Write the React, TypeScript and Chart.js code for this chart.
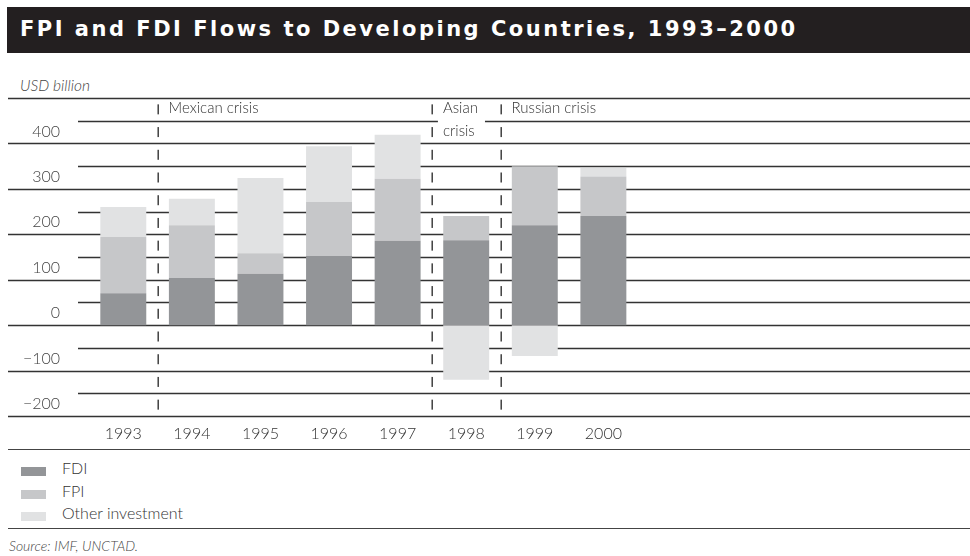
import React, { useEffect, useRef } from 'react';
import { Chart, registerables } from 'chart.js';

Chart.register(...registerables);

const years = ['1993', '1994', '1995', '1996', '1997', '1998', '1999', '2000'];
const fdiValues = [70, 104, 113, 152, 186, 187, 220, 240];
const fpiValues = [124, 116, 45, 119, 136, 53, 130, 87];
const otherValues = [66, 58, 166, 123, 97, -120, -68, 19];
const seriesNames = ['FDI', 'FPI', 'Other investment'];
const seriesColors = ['#939598', '#c6c7c9', '#e1e2e3'];
const yTickValues = [-200, -100, 0, 100, 200, 300, 400];
const crisisLabels = [['Mexican crisis'], ['Asian', 'crisis'], ['Russian crisis']];
const crisisAfterIndex = [0, 4, 5];

const Y_MIN = -200;
const Y_MAX = 500;
const FONT = 'Lato, "Open Sans", sans-serif';

const decorPlugin = {
  id: 'decor',
  beforeDatasetsDraw(chart: any) {
    const { ctx, scales } = chart;
    const y = scales.y;
    ctx.save();
    ctx.strokeStyle = '#333';
    ctx.lineWidth = 1.3;
    for (let v = Y_MIN; v <= Y_MAX; v += 50) {
      const py = Math.round(y.getPixelForValue(v)) + 0.5;
      const x0 = v % 100 === 0 ? 8 : 78;
      ctx.beginPath();
      ctx.moveTo(x0, py);
      ctx.lineTo(chart.width, py);
      ctx.stroke();
    }
    ctx.restore();
  },
  afterDatasetsDraw(chart: any) {
    const { ctx, scales } = chart;
    const x = scales.x;
    const y = scales.y;
    ctx.save();
    crisisAfterIndex.forEach((idx, i) => {
      const px = (x.getPixelForValue(idx) + x.getPixelForValue(idx + 1)) / 2;
      ctx.fillStyle = '#333';
      for (let v = Y_MIN; v < Y_MAX; v += 50) {
        const mid = (y.getPixelForValue(v) + y.getPixelForValue(v + 50)) / 2;
        ctx.fillRect(Math.round(px) - 0.5, mid - 5, 1.4, 10);
      }
      const lines = crisisLabels[i];
      const tx = px + 11;
      ctx.font = `300 15px ${FONT}`;
      if (lines.length > 1) {
        const w = Math.max(...lines.map((l) => ctx.measureText(l).width));
        ctx.fillStyle = '#fff';
        const top = y.getPixelForValue(Y_MAX) + 2;
        const bottom = y.getPixelForValue(Y_MAX - 100) - 2;
        ctx.fillRect(tx - 5, top, w + 12, bottom - top);
      }
      ctx.fillStyle = '#333';
      ctx.textBaseline = 'middle';
      ctx.textAlign = 'left';
      lines.forEach((l, j) => {
        const mid = (y.getPixelForValue(Y_MAX - 50 * j) + y.getPixelForValue(Y_MAX - 50 * (j + 1))) / 2 - 1;
        ctx.fillText(l, tx, mid);
      });
    });
    ctx.restore();
  },
};

export default function App() {
  const ref = useRef<HTMLCanvasElement>(null);

  useEffect(() => {
    const labels = [...years, '', '', '', ''];
    const chart = new Chart(ref.current as HTMLCanvasElement, {
      type: 'bar',
      data: {
        labels,
        datasets: [
          { label: seriesNames[0], data: fdiValues, backgroundColor: seriesColors[0] },
          { label: seriesNames[1], data: fpiValues, backgroundColor: seriesColors[1] },
          { label: seriesNames[2], data: otherValues, backgroundColor: seriesColors[2] },
        ],
      },
      options: {
        responsive: false,
        maintainAspectRatio: false,
        devicePixelRatio: 1,
        animation: false,
        datasets: { bar: { barPercentage: 0.67, categoryPercentage: 1, borderWidth: 0 } },
        layout: { padding: { top: 8, right: 58, bottom: 6, left: 0 } },
        plugins: { legend: { display: false }, tooltip: { enabled: false } },
        scales: {
          x: {
            stacked: true,
            afterFit: (s: any) => {
              s.height = 28;
            },
            grid: { display: false, drawTicks: false },
            border: { display: false },
            ticks: {
              color: '#333',
              font: { family: FONT, size: 16, weight: '300' as any },
              padding: 8,
              autoSkip: false,
              maxRotation: 0,
            },
          },
          y: {
            stacked: true,
            min: Y_MIN,
            max: Y_MAX,
            afterFit: (s: any) => {
              s.width = 89;
              s.paddingTop = 0;
              s.paddingBottom = 0;
            },
            afterBuildTicks: (s: any) => {
              s.ticks = [...yTickValues, Y_MAX].map((v) => ({ value: v }));
            },
            grid: { display: false, drawTicks: false },
            border: { display: false },
            ticks: {
              color: '#444',
              font: { family: FONT, size: 16, weight: '300' as any },
              padding: 29,
              labelOffset: -12,
              callback: (v: any) => {
                const n = Number(v);
                if (!yTickValues.includes(n)) return '';
                return n < 0 ? '\u2212' + Math.abs(n) : String(n);
              },
            },
          },
        },
      },
      plugins: [decorPlugin],
    });
    return () => chart.destroy();
  }, []);

  return (
    <div
      style={{
        position: 'absolute',
        left: 0,
        top: 0,
        width: 970,
        height: 556,
        background: '#fff',
        fontFamily: FONT,
        color: '#333',
        overflow: 'hidden',
      }}
    >
      <div style={{ position: 'absolute', left: 7, top: 7, width: 963, height: 46, background: '#231f20' }}>
        <div
          style={{
            position: 'absolute',
            left: 13,
            top: 0,
            lineHeight: '44px',
            fontSize: 21,
            fontFamily: '"DejaVu Sans", sans-serif',
            fontWeight: 700,
            color: '#fff',
            letterSpacing: 2.5,
            whiteSpace: 'nowrap',
          }}
        >
          FPI and FDI Flows to Developing Countries, 1993–2000
        </div>
      </div>
      <div style={{ position: 'absolute', left: 20, top: 76, fontSize: 15.5, fontStyle: 'italic', fontWeight: 300, lineHeight: '19px', color: '#444' }}>
        USD billion
      </div>
      <canvas
        ref={ref}
        width={970}
        height={360}
        style={{ position: 'absolute', left: 0, top: 90, width: 970, height: 360 }}
      />
      <div style={{ position: 'absolute', left: 8, top: 449, width: 962, height: 1, background: '#444' }} />
      {seriesNames.map((name, i) => (
        <React.Fragment key={name}>
          <div
            style={{
              position: 'absolute',
              left: 21,
              top: 467 + i * 22.7,
              width: 25,
              height: 9,
              background: seriesColors[i],
            }}
          />
          <div
            style={{
              position: 'absolute',
              left: 62,
              top: 458 + i * 22.7,
              fontSize: 16,
              fontWeight: 300,
              lineHeight: '20px',
              color: '#333',
              whiteSpace: 'nowrap',
            }}
          >
            {name}
          </div>
        </React.Fragment>
      ))}
      <div style={{ position: 'absolute', left: 8, top: 528, width: 962, height: 1, background: '#444' }} />
      <div style={{ position: 'absolute', left: 9, top: 537, fontSize: 14, fontStyle: 'italic', fontWeight: 300, lineHeight: '18px', color: '#444' }}>
        Source: IMF, UNCTAD.
      </div>
    </div>
  );
}
